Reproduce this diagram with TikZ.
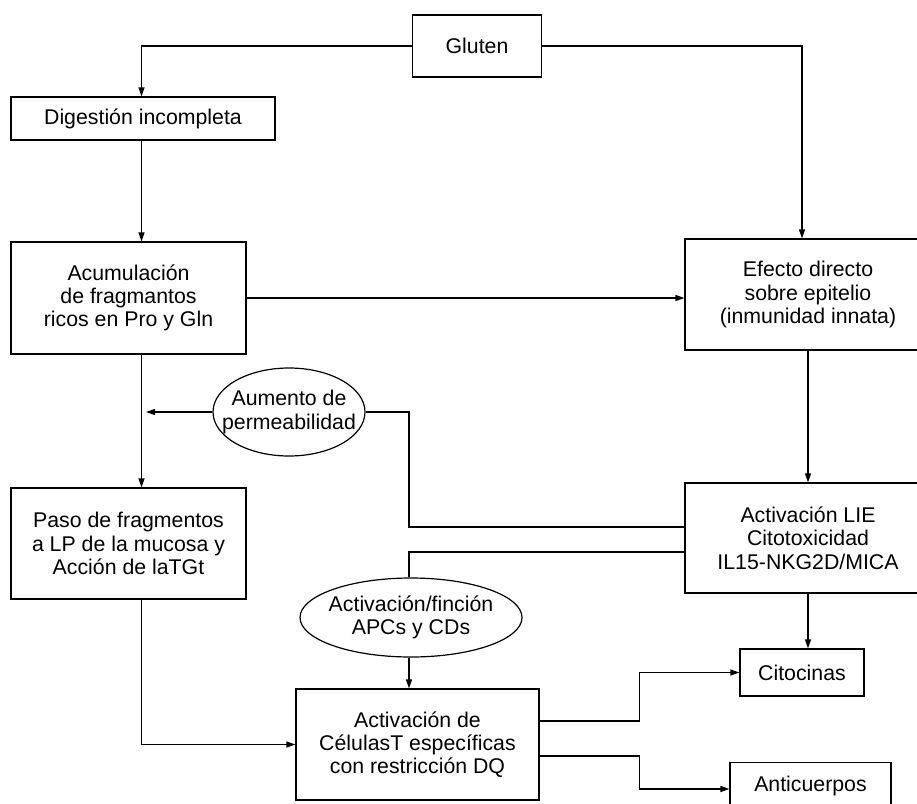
\documentclass[tikz,border=0pt]{standalone}
\usepackage{fontspec}
\setmainfont{Liberation Sans}
\usetikzlibrary{arrows.meta,shapes.geometric}
\begin{document}
\begin{tikzpicture}[x=1pt,y=-1pt,
  every node/.style={font=\fontsize{21.3}{23.3}\selectfont, align=center, inner sep=0pt},
  box/.style={draw, line width=1.2pt, rectangle},
  oval/.style={draw, line width=1.2pt, ellipse},
  conn/.style={line width=1.2pt},
  arr/.style={conn, -{Triangle[length=9pt,width=6pt]}}]
\useasboundingbox (0,0) rectangle (917,803);
\clip (0,0) rectangle (917,803);
\node[box, minimum width=129pt, minimum height=62pt] (gluten) at (477,46) {Gluten};
\node[box, minimum width=264pt, minimum height=43pt] (dig) at (143,118.5) {Digestión incompleta};
\node[box, minimum width=235pt, minimum height=112pt] (acum) at (128.5,298) {Acumulación\\de fragmantos\\ricos en Pro y Gln};
\node[box, minimum width=246pt, minimum height=111pt] (efecto) at (808,294.5) {Efecto directo\\sobre epitelio\\(inmunidad innata)};
\node[oval, minimum width=152pt, minimum height=88pt] (aumento) at (289,412) {};
\node (aumentotxt) at (aumento.center) {Aumento de\\permeabilidad};
\node[box, minimum width=235pt, minimum height=111pt] (paso) at (128.5,543.5) {Paso de fragmentos\\a LP de la mucosa y\\Acción de laTGt};
\node[box, minimum width=246pt, minimum height=110pt] (lie) at (808,538) {Activación LIE\\Citotoxicidad\\IL15-NKG2D/MICA};
\node[oval, minimum width=222pt, minimum height=79pt] (apc) at (411,617.5) {};
\node (apctxt) at (apc.center) {Activación/finción\\APCs y CDs};
\node[box, minimum width=243pt, minimum height=111pt] (act) at (417.5,744.5) {Activación de\\CélulasT específicas\\con restricción DQ};
\node[box, minimum width=124pt, minimum height=47pt] (cito) at (802,672.5) {Citocinas};
\node[box, minimum width=161pt, minimum height=47pt] (anti) at (810.5,786) {Anticuerpos};
\coordinate (colx) at (141.5,0);
\coordinate (ljoin) at (409,0);
\coordinate (perm) at ([xshift=4.5pt]colx |- aumento.west);
% connectors
\draw[arr] (gluten.west) -| (colx |- dig.north);
\draw[arr] (gluten.east) -| ([xshift=-6pt]efecto.north);
\draw[arr] (colx |- dig.south) -- (colx |- acum.north);
\draw[arr] (acum.east) -- (acum.east -| efecto.west);
\draw[arr] (colx |- acum.south) -- (colx |- paso.north);
\draw[arr] (aumento.west) -- (perm);
\draw[conn] ([yshift=11pt]lie.west) -| (ljoin |- aumento.east) -- (aumento.east);
\draw[conn] ([yshift=-14pt]lie.west) -| (ljoin |- apc.north);
\draw[arr] (ljoin |- apc.south) -- (ljoin |- act.north);
\draw[arr] (efecto.south) -- (efecto.south |- lie.north);
\draw[arr] (colx |- paso.south) |- (act.west);
\draw[arr] (lie.south) -- (lie.south |- cito.north);
\draw[arr] ([yshift=23.5pt]act.east) -- ++(100,0) |- (cito.west);
\draw[arr] ([yshift=-11.5pt]act.east) -- ++(100,0) |- ([yshift=-3pt]anti.west);
\end{tikzpicture}
\end{document}
